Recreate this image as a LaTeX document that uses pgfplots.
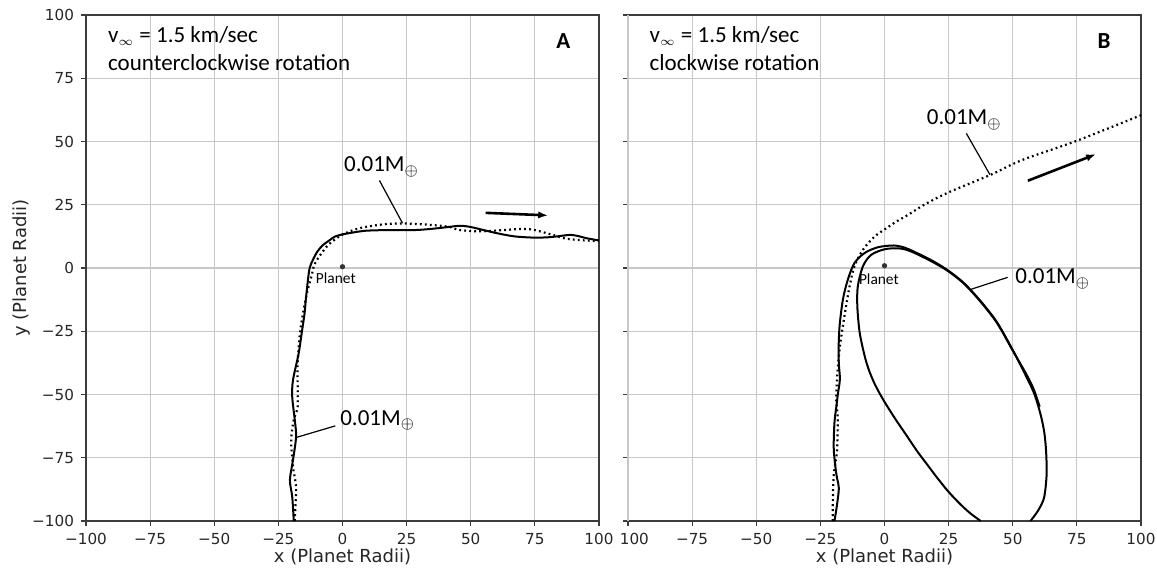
\documentclass[border=0pt]{standalone}
\usepackage{fontspec}
\setmainfont{DejaVu Sans}
\newfontfamily\calib{Carlito}
\usepackage{pgfplots}
\pgfplotsset{compat=1.18}
\usetikzlibrary{arrows.meta}
\definecolor{gridc}{RGB}{200,200,200}
\definecolor{axc}{RGB}{60,60,60}
\tikzset{ann/.style={font=\calib\fontsize{11.5}{13}\selectfont, inner sep=0pt}}
\pgfplotsset{
  panel/.style={
    scale only axis, width=256.5pt, height=253pt,
    xmin=-100, xmax=100, ymin=-100, ymax=100,
    ytick={-100,-75,...,100},
    grid=major, major grid style={gridc, line width=0.6pt},
    axis line style={axc, line width=0.7pt},
    tick align=outside, tick pos=left,
    major tick length=2.5pt,
    tick style={axc, line width=0.6pt},
    ticklabel style={font=\fontsize{7.6}{9}\selectfont, text=black!85},
    xlabel style={font=\fontsize{9}{11}\selectfont, at={(axis description cs:0.5,-0.071)}, anchor=center, text=black!85},
    ylabel style={font=\fontsize{9}{11}\selectfont, at={(axis description cs:-0.125,0.5)}, anchor=center, text=black!85},
    clip=true,
  },
  solidc/.style={black, line width=1pt, smooth, no marks},
  dotc/.style={black, line width=1.1pt, dash pattern=on 0.9pt off 1.6pt, smooth, no marks},
}
\begin{document}
\begin{tikzpicture}
\useasboundingbox (-43pt,-24pt) rectangle (535.5pt,260.5pt);
% ---------------- Panel A ----------------
\begin{axis}[panel, at={(0pt,0pt)}, anchor=south west,
  xtick={-100,-75,...,100},
  xticklabels={−100,−75,−50,−25,0,25,50,75,100},
  yticklabels={−100,−75,−50,−25,0,25,50,75,100},
  xlabel={x (Planet Radii)}, ylabel={y (Planet Radii)}]
\addplot[dotc] coordinates {
(-18.6,-100) (-18.4,-95) (-18.1,-86.4) (-19.3,-78.5) (-20,-68) (-19,-60) (-17.5,-54.9)
(-17.5,-45) (-17.5,-37.8) (-16.5,-25) (-14.2,-11.5) (-12.1,-3.3) (-11.1,1.0) (-9.5,3.9)
(-7.3,7.0) (-5.6,9.1) (-0.4,13) (6.1,15.6) (15.3,17.2) (23.1,17.6) (32.2,17.2) (41.4,16.3)
(45,15.1) (52.6,14.5) (60,14.8) (69,15.4) (74,15.2) (78,14.2) (83,12.8) (87,11.6) (93,11) (100,10.6)};
\addplot[solidc] coordinates {
(-19.0,-100) (-19.6,-90.4) (-20.5,-83.8) (-19.3,-75.9) (-18.1,-66.7) (-18.6,-60.1) (-19.6,-50.9)
(-19.3,-44.3) (-17.1,-33.8) (-15.8,-25) (-14.8,-18) (-14.3,-12.5) (-13.5,-5) (-12.8,0) (-11.5,3.3)
(-9.8,6.5) (-7.6,9.1) (-5,11) (-3,12.4) (0,13.3) (2.2,13.7) (8.7,14.7) (17.9,15) (28.3,15) (36,15.6)
(42,16.3) (46,16.7) (50,16.2) (55,15) (60,13.8) (67,12.5) (75,12.0) (81,12.2) (86,12.8) (89,13.1)
(92,12.6) (95,11.8) (100,10.9)};
% planet
\addplot[only marks, mark=*, mark size=1.1pt, black!80] coordinates {(0,0.5)};
\node[font=\calib\fontsize{7.7}{9}\selectfont, inner sep=0pt] at (axis cs:-2.6,-3.9) {Planet};
% annotations
\node[ann, anchor=west] at (axis cs:0.5,40) {0.01M$_\oplus$};
\draw[black, line width=0.6pt] (axis cs:14.4,34.6) -- (axis cs:23.4,17.7);
\node[ann, anchor=west] at (axis cs:-1,-60.2) {0.01M$_\oplus$};
\draw[black, line width=0.6pt] (axis cs:-2.8,-62.4) -- (axis cs:-18.1,-67);
\draw[black, line width=1.3pt, -{Latex[length=5pt,width=3.6pt]}] (axis cs:55.8,21.8) -- (axis cs:80.2,20.8);
\node[ann, anchor=base west] at (axis cs:-91.5,89.2) {v$_{\scriptscriptstyle\infty}$ = 1.5 km/sec};
\node[ann, anchor=base west] at (axis cs:-91.5,78) {counterclockwise rotation};
\node[ann, anchor=base east, font=\calib\bfseries\fontsize{11.5}{13}\selectfont] at (axis cs:89,86.8) {A};
\end{axis}
% ---------------- Panel B ----------------
\begin{axis}[panel, at={(271pt,0pt)}, anchor=south west,
  xtick={-75,-50,...,100},
  xticklabels={−75,−50,−25,0,25,50,75,100},
  extra x ticks={-100}, extra x tick labels={100},
  extra x tick style={xticklabel style={xshift=3.2pt}},
  xlabel={x (Planet Radii)}, yticklabels={}]
\addplot[dotc] coordinates {
(-20.2,-100) (-20.1,-90) (-19.8,-82) (-19,-76) (-18.5,-72.5) (-18.3,-65) (-18.2,-59.4) (-18.8,-52)
(-18.5,-43.7) (-17.5,-32) (-15.6,-18.9) (-13.6,-7.2) (-11.7,0.7) (-8.4,7.2) (-3.9,12.4) (1,15.9)
(4.5,18.3) (8.5,20.6) (16,25.3) (25,29.9) (41.5,36.9) (53.7,42.7) (75,50.3) (100,60.4)};
\addplot[solidc] coordinates {
(-19.5,-100) (-18.5,-93.5) (-17.8,-87) (-18.5,-83) (-19.1,-79) (-19.8,-71) (-19.5,-61) (-18.8,-55)
(-18.2,-50) (-17.4,-44) (-17.8,-38) (-17.9,-31.9) (-17.5,-22.8) (-16.2,-12.4) (-14.3,-4.6) (-11.7,2)
(-7.8,5.9) (-2.6,8.2) (3.6,8.9) (8,8.0) (11.4,6.5) (17.9,3.3) (24.4,-0.7) (30.9,-5.9) (37.4,-13)
(43.9,-21.5) (50.4,-33.2) (55.6,-43.6) (58.5,-50) (60.9,-58.1) (62.3,-65) (63,-72.5) (63.2,-81.7)
(62.2,-90.8) (59.8,-96) (56.9,-100)};
\addplot[solidc] coordinates {
(37.5,-100) (33.5,-97) (29.7,-93.5) (25,-88.5) (20.6,-83) (16.5,-77.5) (12.8,-72.5) (8.8,-66.5)
(4.9,-60.7) (2.4,-56.8) (0,-52.9) (-2.2,-49) (-4.2,-45) (-6.2,-40) (-7.8,-34.5) (-9.7,-25.4)
(-10.6,-15) (-10.4,-7.2) (-8.4,0.7) (-5.2,5.2) (0,7.4) (5.2,7.8) (8.5,7.2) (11.8,5.9) (18.2,2.7)
(24.6,-1.1) (31.1,-6.3) (37.5,-13.4) (43.9,-21.8) (50.2,-33.0) (55.3,-42.0) (58.2,-48.0) (60.5,-54.8)};
\addplot[only marks, mark=*, mark size=1.1pt, black!80] coordinates {(0,0.9)};
\node[font=\calib\fontsize{7.7}{9}\selectfont, inner sep=0pt] at (axis cs:-2.2,-4.3) {Planet};
\node[ann, anchor=west] at (axis cs:16.4,58.5) {0.01M$_\oplus$};
\draw[black, line width=0.6pt] (axis cs:31.9,53.2) -- (axis cs:41.1,36.9);
\node[ann, anchor=west] at (axis cs:50.9,-4.3) {0.01M$_\oplus$};
\draw[black, line width=0.6pt] (axis cs:48,-3.7) -- (axis cs:33.5,-8.5);
\draw[black, line width=1.3pt, -{Latex[length=5pt,width=3.6pt]}] (axis cs:55.9,34.5) -- (axis cs:82.5,45);
\node[ann, anchor=base west] at (axis cs:-91.7,89.2) {v$_{\scriptscriptstyle\infty}$ = 1.5 km/sec};
\node[ann, anchor=base west] at (axis cs:-91.7,78) {clockwise rotation};
\node[ann, anchor=base east, font=\calib\bfseries\fontsize{11.5}{13}\selectfont] at (axis cs:88.3,86.6) {B};
\end{axis}
\end{tikzpicture}
\end{document}
